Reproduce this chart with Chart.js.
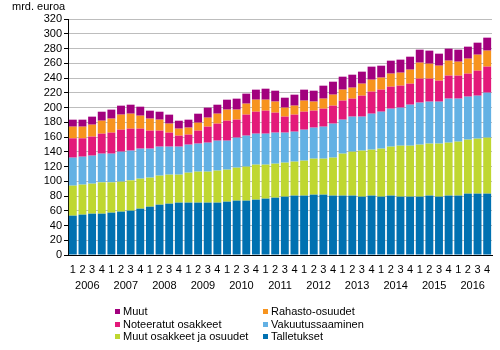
<!DOCTYPE html>
<html>
<head>
<meta charset="utf-8">
<script src="https://cdn.jsdelivr.net/npm/chart.js@4"></script>
<style>
  html, body { margin: 0; padding: 0; background: #fff; }
  #wrap { position: relative; width: 500px; height: 350px; }
  #chart { position: absolute; left: 0; top: 0; }
  .legend { position: absolute; left: 0; top: 0; width: 500px; height: 350px; font: 11px "Liberation Sans", Arial, sans-serif; color: #000; }
  .item { position: absolute; white-space: nowrap; line-height: 12px; }
  .item i { position: absolute; left: -8px; top: 4px; width: 5px; height: 5px; }
</style>
</head>
<body>
<div id="wrap">
  <canvas id="chart" width="500" height="350"></canvas>
  <div class="legend" id="legend"></div>
</div>
<script>
// quarters 2006Q1 .. 2016Q4
const years = ['2006','2007','2008','2009','2010','2011','2012','2013','2014','2015','2016'];
const quarters = [];
years.forEach(() => quarters.push('1','2','3','4'));

// mrd. euroa
const talletukset = [53.3,54.7,56.0,56.0,57.4,58.8,60.1,62.8,65.5,68.2,69.6,71.0,71.0,71.0,71.0,71.0,72.3,73.7,73.7,75.0,76.4,77.7,
  79.1,80.5,80.5,81.8,81.8,80.5,80.5,80.5,79.1,80.5,79.1,80.5,79.1,79.1,79.1,80.5,79.1,80.5,80.5,83.2,83.2,83.2];
const muutOsakkeet = [40.7,40.7,40.7,42.5,41.1,40.6,41.1,40.7,39.4,39.4,39.3,37.9,40.6,42.0,42.0,43.4,43.4,44.7,46.1,47.5,46.1,46.1,
  46.1,46.1,47.4,48.8,48.8,51.5,56.9,59.6,62.4,62.3,65.1,66.4,69.1,69.1,70.5,70.5,71.9,71.8,73.2,73.2,74.5,75.9];
const vakuutus = [38.0,37.9,38.0,38.9,38.9,40.7,40.3,40.7,39.3,39.3,38.0,38.0,38.0,38.0,39.3,40.6,39.3,40.7,42.0,42.0,42.0,42.1,
  40.7,40.6,42.0,42.1,43.4,46.1,46.1,47.5,46.1,48.8,50.1,51.5,51.6,55.6,57.0,56.9,56.9,59.7,58.3,58.3,58.3,61.0];
const noteeratut = [26.2,24.9,25.8,27.1,28.5,29.8,29.8,27.1,24.4,21.7,19.0,14.9,13.6,17.6,21.7,23.1,27.1,24.4,28.5,29.8,31.2,27.1,
  21.7,23.1,24.4,23.0,24.4,24.4,25.8,24.4,28.4,29.9,29.9,29.8,29.8,28.5,32.5,31.2,28.5,31.2,31.2,31.2,33.9,35.3];
const rahasto = [15.8,15.8,16.2,17.6,19.0,20.4,20.3,17.6,16.3,14.9,12.2,9.5,9.5,10.8,12.2,13.5,15.0,13.6,14.9,16.3,14.9,15.0,
  12.2,12.2,15.0,12.3,13.6,14.9,14.9,14.9,16.3,16.2,16.3,17.7,17.6,19.0,21.7,20.3,20.3,20.3,18.9,20.3,21.7,21.7];
const muut = [9.5,9.5,10.9,12.2,12.2,12.2,12.2,12.2,10.8,10.8,12.2,10.8,10.8,12.2,13.6,12.2,13.5,14.9,13.6,13.6,14.9,14.8,
  13.5,14.9,14.9,14.8,17.6,17.6,17.6,17.6,16.3,17.7,16.2,17.6,17.7,17.6,17.6,17.7,16.3,16.3,16.3,16.3,16.3,17.6];

const series = [
  { label: 'Talletukset', data: talletukset, color: '#0071b1' },
  { label: 'Muut osakkeet ja osuudet', data: muutOsakkeet, color: '#bfd730' },
  { label: 'Vakuutussaaminen', data: vakuutus, color: '#63b1e4' },
  { label: 'Noteeratut osakkeet', data: noteeratut, color: '#e3197a' },
  { label: 'Rahasto-osuudet', data: rahasto, color: '#f7941e' },
  { label: 'Muut', data: muut, color: '#a2007e' }
];

const font = { family: '"Liberation Sans", Arial, sans-serif', size: 11 };
Chart.defaults.font = font;
Chart.defaults.color = '#000';

const unitTitle = {
  id: 'unitTitle',
  afterDraw(chart) {
    const ctx = chart.ctx;
    ctx.save();
    ctx.font = '11px "Liberation Sans", Arial, sans-serif';
    ctx.fillStyle = '#000';
    ctx.textBaseline = 'middle';
    ctx.fillText('mrd. euroa', 12, 7);
    ctx.restore();
  }
};

new Chart(document.getElementById('chart'), {
  type: 'bar',
  data: {
    labels: quarters,
    datasets: series.map(s => ({
      label: s.label,
      data: s.data,
      backgroundColor: s.color,
      barPercentage: 0.82,
      categoryPercentage: 1
    }))
  },
  options: {
    responsive: false,
    animation: false,
    layout: { padding: { left: 0, right: 8, top: 19, bottom: 56 } },
    plugins: { legend: { display: false }, tooltip: { enabled: false } },
    scales: {
      x: {
        stacked: true,
        grid: { display: false, drawTicks: false },
        border: { display: true, color: '#000', width: 1 },
        ticks: { padding: 8, maxRotation: 0, autoSkip: false },
        afterFit: s => { s.height = 18; }
      },
      x2: {
        type: 'category',
        labels: years,
        position: 'bottom',
        grid: { display: false, drawTicks: false },
        border: { display: false },
        ticks: { padding: 6, maxRotation: 0, autoSkip: false },
        afterFit: s => { s.height = 21; }
      },
      y: {
        stacked: true,
        min: 0,
        max: 320,
        ticks: { stepSize: 20, padding: 2, autoSkip: false },
        grid: { color: '#bdbdbd', tickColor: '#000', tickLength: 4 },
        border: { color: '#000' },
        afterFit: s => { s.width = 68; }
      }
    }
  },
  plugins: [unitTitle]
});

// legend, two columns, same order as the original
const legendOrder = [5, 4, 3, 2, 1, 0];
const legendEl = document.getElementById('legend');
legendOrder.forEach((idx, k) => {
  const s = series[idx];
  const col = k % 2, row = Math.floor(k / 2);
  const el = document.createElement('div');
  el.className = 'item';
  el.style.left = (col ? 271 : 123) + 'px';
  el.style.top = (305 + row * 12.5) + 'px';
  el.innerHTML = '<i style="background:' + s.color + '"></i>' + s.label;
  legendEl.appendChild(el);
});
</script>
</body>
</html>
